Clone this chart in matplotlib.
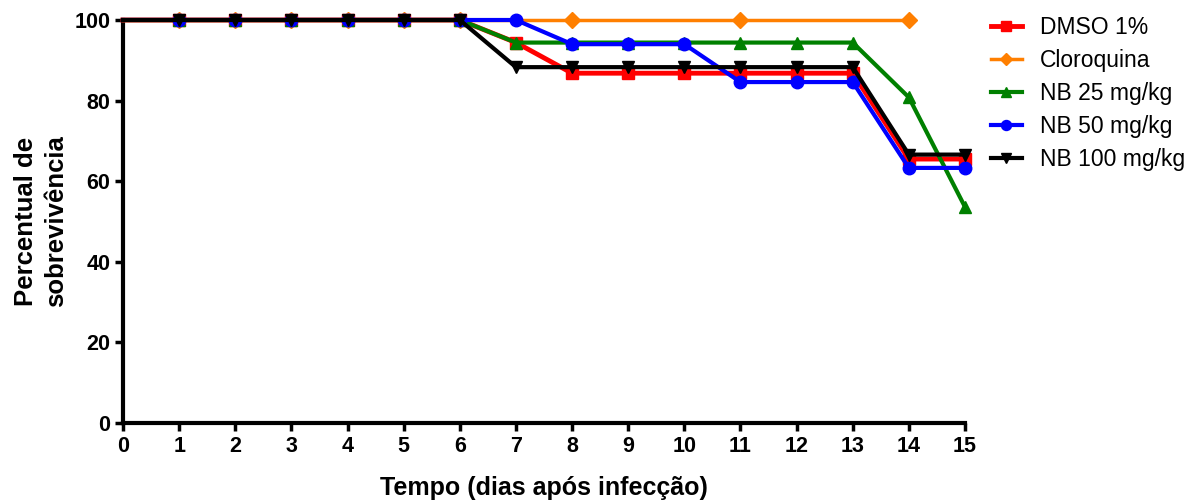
import matplotlib
matplotlib.use("Agg")
import matplotlib.pyplot as plt

plt.rcParams['font.family'] = ['Liberation Sans', 'DejaVu Sans']

# Survival data (percent) by day after infection
days = list(range(0, 16))
dmso = [100, 100, 100, 100, 100, 100, 100, 94.4, 86.8, 86.8, 86.8, 86.8, 86.8, 86.8, 65.5, 65.5]
cloro_days = [0, 1, 2, 3, 4, 5, 6, 8, 11, 14]
cloro = [100, 100, 100, 100, 100, 100, 100, 100, 100, 100]
nb25 = [100, 100, 100, 100, 100, 100, 100, 94.4, 94.4, 94.4, 94.4, 94.4, 94.4, 94.4, 80.8, 53.6]
nb50 = [100, 100, 100, 100, 100, 100, 100, 100, 94.0, 94.0, 94.0, 84.6, 84.6, 84.6, 63.3, 63.3]
nb100 = [100, 100, 100, 100, 100, 100, 100, 88.3, 88.3, 88.3, 88.3, 88.3, 88.3, 88.3, 66.6, 66.6]

series = [
    ("DMSO 1%", days, dmso, "#ff0000", "s", 3.5),
    ("Cloroquina", cloro_days, cloro, "#ff7f00", "D", 2.5),
    ("NB 25 mg/kg", days, nb25, "#008000", "^", 3),
    ("NB 50 mg/kg", days, nb50, "#0000ff", "o", 3),
    ("NB 100 mg/kg", days, nb100, "#000000", "v", 3),
]


def main():
    fig = plt.figure(figsize=(12, 5.04), dpi=100)
    ax = fig.add_axes([123 / 1200, 1 - 423 / 504, (965 - 123) / 1200, (423 - 20) / 504])

    for label, x, y, color, marker, lw in series:
        ms = 8 if marker == "D" else 9
        ax.plot(x, y, color=color, marker=marker, markersize=ms, linewidth=lw,
                markevery=slice(1, None), label=label, clip_on=False, zorder=3)

    ax.set_xlim(0, 15)
    ax.set_ylim(0, 100)
    ax.set_xticks(range(0, 16))
    ax.set_yticks(range(0, 101, 20))
    for s in ["top", "right"]:
        ax.spines[s].set_visible(False)
    for s in ["left", "bottom"]:
        ax.spines[s].set_linewidth(3)
    ax.tick_params(direction="out", width=2.5, length=6, labelsize=15.5, pad=3)
    for lbl in ax.get_xticklabels() + ax.get_yticklabels():
        lbl.set_fontweight("bold")

    ax.set_xlabel("Tempo (dias após infecção)", fontsize=18, fontweight="bold", labelpad=14)
    ax.set_ylabel("Percentual de\nsobrevivência", fontsize=18.5, fontweight="bold",
                  labelpad=5, linespacing=1.3)

    fig.legend(loc="upper left", bbox_to_anchor=(991 / 1200, 1 - 16 / 504), frameon=False,
               fontsize=16.5, handlelength=1.35, labelspacing=0.44, handletextpad=0.8,
               borderpad=0, borderaxespad=0, markerscale=0.8)

    fig.savefig("out.png", dpi=100)


if __name__ == "__main__":
    main()
